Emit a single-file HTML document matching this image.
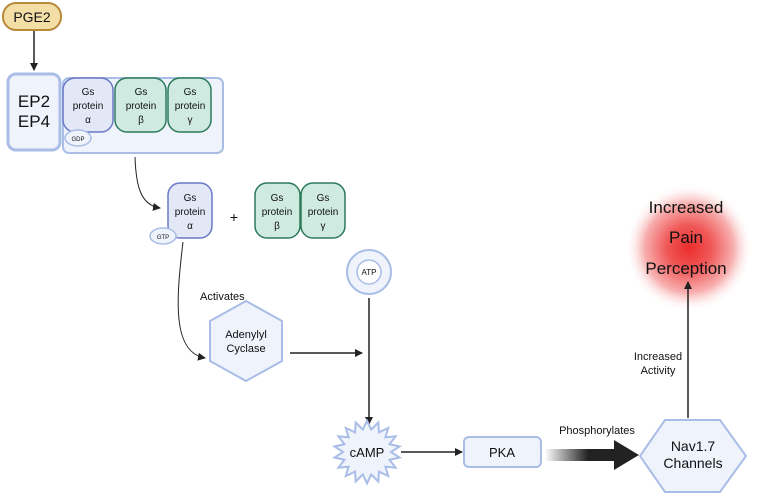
<!DOCTYPE html>
<html><head><meta charset="utf-8"><style>body{margin:0;background:#fff}svg{display:block}text{font-family:"Liberation Sans",sans-serif;fill:#111}</style></head><body>
<svg width="761" height="497" viewBox="0 0 761 497" xmlns="http://www.w3.org/2000/svg">
<defs>
<marker id="a" markerWidth="8" markerHeight="8" refX="7" refY="4" orient="auto" markerUnits="userSpaceOnUse"><path d="M0,0 L8,4 L0,8 Z" fill="#222"/></marker>
<radialGradient id="glow"><stop offset="0" stop-color="#ec2c2c"/><stop offset="0.35" stop-color="#f05858"/><stop offset="0.7" stop-color="#f8b0b0"/><stop offset="1" stop-color="#fff" stop-opacity="0"/></radialGradient>
<linearGradient id="ga" x1="0" x2="1"><stop offset="0" stop-color="#222" stop-opacity="0"/><stop offset="0.6" stop-color="#222"/></linearGradient>
</defs>
<circle cx="689" cy="248" r="64" fill="url(#glow)"/>
<rect x="3" y="3" width="58" height="27" rx="13" fill="#f3dfa6" stroke="#b8893a" stroke-width="2"/>
<text x="32" y="22" font-size="14" text-anchor="middle">PGE2</text>
<line x1="34" y1="31" x2="34" y2="70" stroke="#222" stroke-width="1.5" marker-end="url(#a)"/>
<rect x="8" y="74" width="52" height="76" rx="8" fill="#eef3fc" stroke="#a9bde6" stroke-width="3"/>
<text x="34" y="107" font-size="17" text-anchor="middle">EP2</text>
<text x="34" y="127" font-size="17" text-anchor="middle">EP4</text>
<rect x="63" y="78" width="160" height="75" rx="6" fill="#eff4fc" stroke="#a9bde6" stroke-width="2"/>
<g font-size="10" text-anchor="middle">
<rect x="63" y="78" width="50" height="54" rx="12" fill="#e3e8f7" stroke="#6a79c4" stroke-width="1.5"/>
<text x="88" y="95">Gs</text><text x="88" y="109">protein</text><text x="88" y="123">α</text>
<rect x="115" y="78" width="51" height="54" rx="12" fill="#cfeae0" stroke="#2d7a5b" stroke-width="1.5"/>
<text x="141" y="95">Gs</text><text x="141" y="109">protein</text><text x="141" y="123">β</text>
<rect x="168" y="78" width="43" height="54" rx="12" fill="#cfeae0" stroke="#2d7a5b" stroke-width="1.5"/>
<text x="190" y="95">Gs</text><text x="190" y="109">protein</text><text x="190" y="123">γ</text>
<ellipse cx="78" cy="138" rx="13" ry="8" fill="#eef3fc" stroke="#a9bde6" stroke-width="1.5"/>
<text x="78" y="141" font-size="6">GDP</text>
<path d="M135,157 C136,185 140,205 160,208" fill="none" stroke="#222" stroke-width="1" marker-end="url(#a)"/>
<rect x="168" y="183" width="44" height="55" rx="12" fill="#e3e8f7" stroke="#6a79c4" stroke-width="1.5"/>
<text x="190" y="201">Gs</text><text x="190" y="215">protein</text><text x="190" y="229">α</text>
<ellipse cx="163" cy="236" rx="13" ry="8" fill="#eef3fc" stroke="#a9bde6" stroke-width="1.5"/>
<text x="163" y="239" font-size="6">GTP</text>
<text x="234" y="222" font-size="14">+</text>
<rect x="255" y="183" width="45" height="55" rx="12" fill="#cfeae0" stroke="#2d7a5b" stroke-width="1.5"/>
<text x="277" y="201">Gs</text><text x="277" y="215">protein</text><text x="277" y="229">β</text>
<rect x="301" y="183" width="44" height="55" rx="12" fill="#cfeae0" stroke="#2d7a5b" stroke-width="1.5"/>
<text x="323" y="201">Gs</text><text x="323" y="215">protein</text><text x="323" y="229">γ</text>
</g>
<circle cx="369" cy="272" r="22" fill="#eef3fc" stroke="#a9bde6" stroke-width="2"/>
<circle cx="369" cy="272" r="12" fill="#fff" stroke="#a9bde6" stroke-width="1.5"/>
<text x="369" y="275" font-size="8" text-anchor="middle">ATP</text>
<line x1="369" y1="298" x2="369" y2="424" stroke="#222" stroke-width="1.5" marker-end="url(#a)"/>
<text x="200" y="300" font-size="11">Activates</text>
<path d="M183,242 C176,300 172,352 205,358" fill="none" stroke="#222" stroke-width="1" marker-end="url(#a)"/>
<polygon points="246,301 282,321 282,361 246,381 210,361 210,321" fill="#eef3fc" stroke="#a9bde6" stroke-width="2"/>
<text x="246" y="338" font-size="11" text-anchor="middle">Adenylyl</text>
<text x="246" y="352" font-size="11" text-anchor="middle">Cyclase</text>
<line x1="290" y1="353" x2="362" y2="353" stroke="#222" stroke-width="1.5" marker-end="url(#a)"/>
<polygon fill="#eef3fc" stroke="#a9bde6" stroke-width="2" points="367,420.7 371.2,429.5 378.3,422.5 379,432.3 388.2,428 385.4,437.3 395.6,436.3 389.6,444.2 399.5,446.5 391,452 399.5,457.5 389.6,459.8 395.6,467.7 385.4,466.7 388.2,476 379,471.7 378.3,481.5 371.2,474.5 367,483.4 362.8,474.5 355.7,481.5 355,471.7 345.8,476 348.6,466.7 338.4,467.7 344.4,459.8 334.5,457.5 343,452 334.5,446.5 344.4,444.2 338.4,436.3 348.6,437.3 345.8,428 355,432.3 355.7,422.5 362.8,429.5"/>
<text x="367" y="457" font-size="13" text-anchor="middle">cAMP</text>
<line x1="401" y1="452" x2="462" y2="452" stroke="#222" stroke-width="1.5" marker-end="url(#a)"/>
<rect x="464" y="437" width="77" height="30" rx="5" fill="#eef3fc" stroke="#a9bde6" stroke-width="2"/>
<text x="502" y="457" font-size="13" text-anchor="middle">PKA</text>
<text x="597" y="434" font-size="11" text-anchor="middle">Phosphorylates</text>
<rect x="545" y="449" width="72" height="12" fill="url(#ga)"/>
<polygon points="614,440 639,455 614,470" fill="#222"/>
<polygon points="665,420 720,420 746,456 720,492 665,492 640,456" fill="#eef3fc" stroke="#a9bde6" stroke-width="2"/>
<text x="693" y="451" font-size="14" text-anchor="middle">Nav1.7</text>
<text x="693" y="468" font-size="14" text-anchor="middle">Channels</text>
<line x1="688" y1="418" x2="688" y2="282" stroke="#222" stroke-width="1.5" marker-end="url(#a)"/>
<text x="658" y="360" font-size="11" text-anchor="middle">Increased</text>
<text x="658" y="374" font-size="11" text-anchor="middle">Activity</text>
<text x="686" y="213" font-size="17" text-anchor="middle">Increased</text>
<text x="686" y="243" font-size="17" text-anchor="middle">Pain</text>
<text x="686" y="274" font-size="17" text-anchor="middle">Perception</text>
</svg>
</body></html>
